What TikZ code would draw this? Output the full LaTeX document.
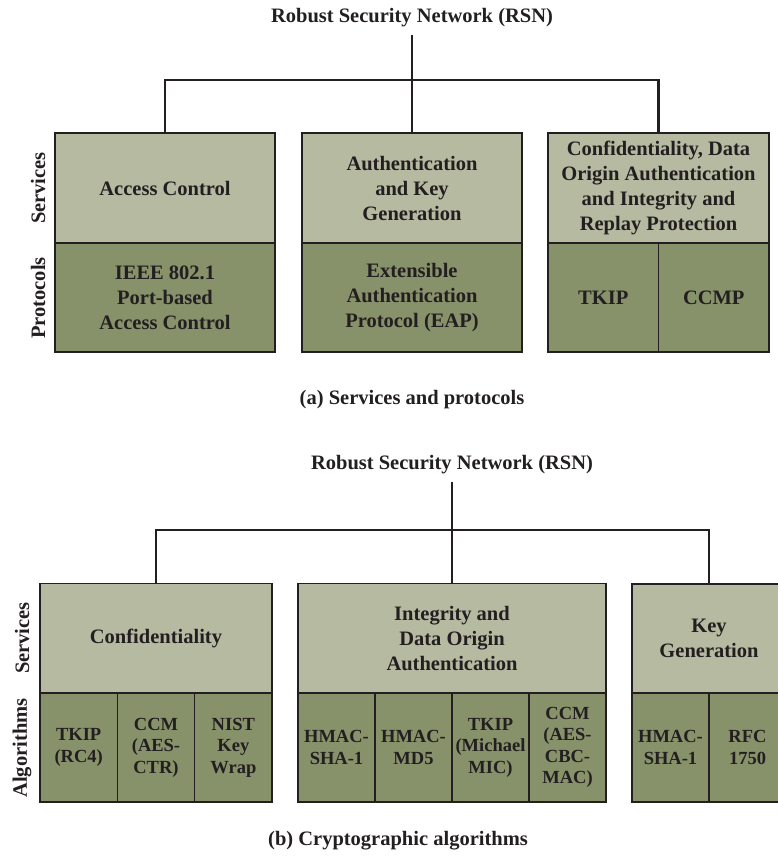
\documentclass[tikz,border=0pt]{standalone}
\usepackage{fontspec}
\setmainfont{Liberation Serif}
\usepackage{xcolor}
\usetikzlibrary{positioning}
\definecolor{svcfill}{RGB}{182,186,161}
\definecolor{algfill}{RGB}{135,145,106}
\definecolor{ink}{RGB}{35,31,32}

\begin{document}
\begin{tikzpicture}[
    x=1pt, y=-1pt,
    every node/.style={text=ink, font=\fontsize{20.5}{25}\selectfont\bfseries},
    cell/.style={rectangle, draw=ink, line width=1.4pt, inner sep=0pt, align=center, minimum height=109pt},
    service/.style={cell, fill=svcfill, minimum height=110pt},
    proto/.style={cell, fill=algfill},
    algo/.style={cell, fill=algfill, minimum width=77pt, font=\fontsize{18.5}{21.5}\selectfont\bfseries},
    side/.style={rotate=90},
    link/.style={draw=ink, line width=2.2pt}
]
\useasboundingbox (0,0) rectangle (778,862);
\clip (0,0) rectangle (778,862);

% (a) services and protocols
\node[inner sep=7pt] (rsnA) at (412,18) {Robust Security Network (RSN)};
\coordinate (jA) at (412,80);
\node[service, minimum width=220pt] (access) at (165,188) {Access Control};
\node[service, minimum width=220pt] (authkey) at (412,188) {Authentication\\and Key\\Generation};
\node[service, minimum width=221pt] (confdata) at (658.5,188) {Confidentiality, Data\\Origin Authentication\\and Integrity and\\Replay Protection};
\node[proto, minimum width=220pt] (ieee) at (165,297.5) {IEEE 802.1\\Port-based\\Access Control};
\node[proto, minimum width=220pt] (eap) at (412,297.5) {Extensible\\Authentication\\Protocol (EAP)};
\node[proto, minimum width=110.5pt] (tkip) at (603.25,297.5) {TKIP};
\node[proto, minimum width=110.5pt] (ccmp) at (713.75,297.5) {CCMP};
\node[side] (svcA) at (38,188) {Services};
\node[side] (protA) at (38,298) {Protocols};
\node (capA) at (412,400) {(a) Services and protocols};

\draw[link] (rsnA.south) -- (jA);
\draw[link] (access.north) |- (jA) -| (confdata.north);
\draw[link] (jA) -- (authkey.north);

% (b) cryptographic algorithms
\node[inner sep=7pt] (rsnB) at (452,465) {Robust Security Network (RSN)};
\coordinate (jB) at (452,530);
\node[service, minimum width=232pt] (conf) at (156,638.5) {Confidentiality};
\node[service, minimum width=308pt] (integ) at (452,638.5) {Integrity and\\Data Origin\\Authentication};
\node[service, minimum width=154pt, line width=2pt] (keygen) at (709,638.5) {Key\\Generation};

\node[algo, minimum width=77.33pt] (tkiprc) at (78.67,747.5) {TKIP\\(RC4)};
\node[algo, minimum width=77.33pt] (ccmctr) at (156,747.5) {CCM\\(AES-\\CTR)};
\node[algo, minimum width=77.33pt] (nistkw) at (233.33,747.5) {NIST\\Key\\Wrap};
\node[algo] (hmacsha) at (336.5,747.5) {HMAC-\\SHA-1};
\node[algo] (hmacmd) at (413.5,747.5) {HMAC-\\MD5};
\node[algo] (tkipmic) at (490.5,747.5) {TKIP\\(Michael\\MIC)};
\node[algo] (ccmcbc) at (567.5,747.5) {CCM\\(AES-\\CBC-\\MAC)};
\node[algo, line width=2pt] (hmackey) at (670.5,747.5) {HMAC-\\SHA-1};
\node[algo, line width=2pt] (rfc) at (747.5,747.5) {RFC\\1750};
\node[side] (svcB) at (22,638) {Services};
\node[side] (algB) at (22,748) {Algorithms};
\node (capB) at (398,841) {(b) Cryptographic algorithms};

\draw[link] (rsnB.south) -- (integ.north);
\draw[link] (conf.north) |- (jB) -| (keygen.north);
\end{tikzpicture}
\end{document}
